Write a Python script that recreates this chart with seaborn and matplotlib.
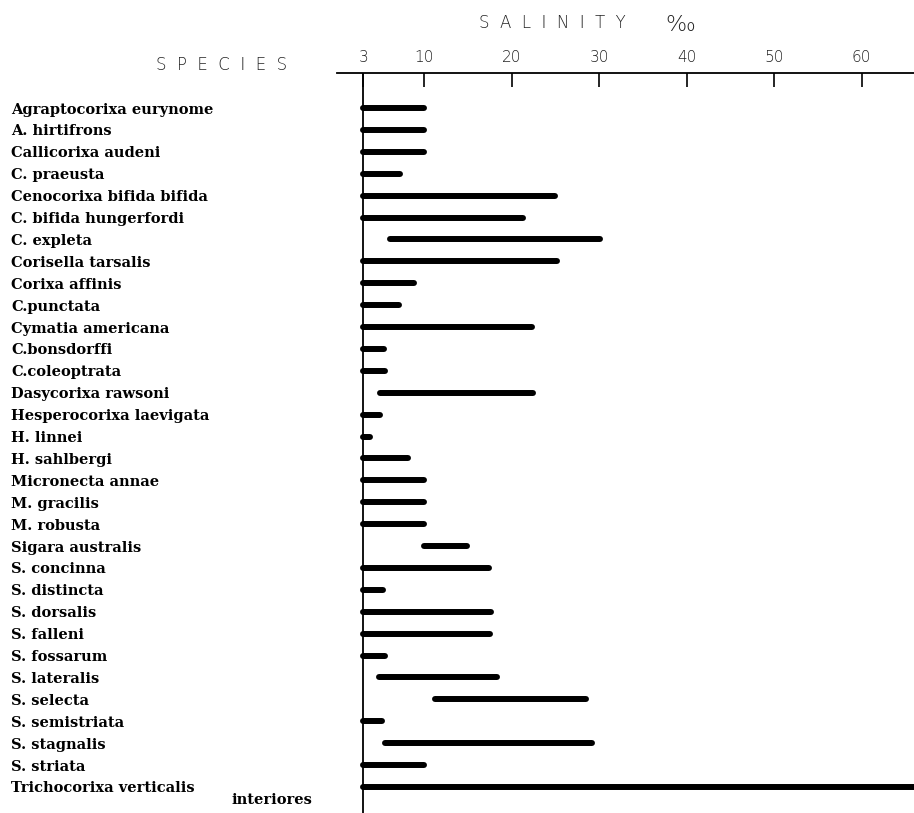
import matplotlib
matplotlib.use("Agg")
import matplotlib.pyplot as plt
import matplotlib.transforms as mtransforms
import seaborn as sns
import pandas as pd
import numpy as np

species = [
    "Agraptocorixa eurynome", "A. hirtifrons", "Callicorixa audeni", "C. praeusta",
    "Cenocorixa bifida bifida", "C. bifida hungerfordi", "C. expleta", "Corisella tarsalis",
    "Corixa affinis", "C.punctata", "Cymatia americana", "C.bonsdorffi", "C.coleoptrata",
    "Dasycorixa rawsoni", "Hesperocorixa laevigata", "H. linnei", "H. sahlbergi",
    "Micronecta annae", "M. gracilis", "M. robusta", "Sigara australis", "S. concinna",
    "S. distincta", "S. dorsalis", "S. falleni", "S. fossarum", "S. lateralis",
    "S. selecta", "S. semistriata", "S. stagnalis", "S. striata", "Trichocorixa verticalis",
]
label_extra = "interiores"
low = [3, 3, 3, 3, 3, 3, 6.1, 3, 3, 3, 3, 3, 3, 4.9, 3, 3, 3, 3, 3, 3, 9.9, 3,
       3, 3, 3, 3, 4.8, 11.2, 3, 5.5, 3, 3]
high = [10, 10, 10, 7.2, 24.9, 21.3, 30.1, 25.2, 8.8, 7.1, 22.3, 5.4, 5.5, 22.4, 4.9,
        3.8, 8.1, 9.9, 10, 10, 14.9, 17.4, 5.3, 17.6, 17.5, 5.5, 18.3, 28.5, 5.2, 29.2,
        10, 66]
tick_values = [3, 10, 20, 30, 40, 50, 60]

sns.set_theme(style="white")
plt.rcParams['font.family'] = ['DejaVu Sans']

W, H = 914, 813
fig = plt.figure(figsize=(W / 100, H / 100), dpi=100)
ax = fig.add_axes([337 / W, 0, 1 - 337 / W, 1 - 73 / H])

pos = np.arange(len(species))
df = pd.DataFrame({
    "species": np.repeat(species, 2),
    "pos": np.repeat(pos, 2),
    "salinity": np.ravel(np.column_stack([low, high])),
})
sns.lineplot(data=df, x="salinity", y="pos", units="species", estimator=None,
             sort=False, color="black", lw=4.3, solid_capstyle="round",
             ax=ax, legend=False)

ax.axvline(3, color="black", lw=1.3)
ax.set_xlim(0, 66)
ax.set_ylim(32.19, -1.6)
ax.set_xlabel("")
ax.set_ylabel("")

for s in ["bottom", "left", "right"]:
    ax.spines[s].set_visible(False)
ax.spines["top"].set_visible(True)
ax.spines["top"].set_color("black")
ax.spines["top"].set_linewidth(1.3)

ax.xaxis.tick_top()
ax.set_xticks(tick_values)
ax.set_xticklabels([str(v) for v in tick_values], fontsize=11,
                   fontfamily="DejaVu Sans", fontweight="light", color="#222222")
ax.tick_params(axis="x", direction="in", length=10, width=1.2, color="black",
               pad=6, top=True, bottom=False)

label_size = 10.5
ax.set_yticks(pos)
ax.set_yticklabels(species, fontfamily="DejaVu Serif", fontweight="bold",
                   fontsize=label_size, ha="left", color="black")
ax.tick_params(axis="y", length=0, pad=(337 - 11) * 0.72, left=True)

ax.text(272 / W, 31.6, label_extra,
        transform=mtransforms.blended_transform_factory(fig.transFigure, ax.transData),
        fontfamily="DejaVu Serif", fontweight="bold", fontsize=label_size,
        ha="center", va="center", color="black")

fig.text(552 / W, 1 - 23 / H, "S  A  L  I  N  I  T  Y", fontsize=12,
         fontfamily="DejaVu Sans", fontweight="light", color="#222222",
         ha="center", va="center")
fig.text(680 / W, 1 - 25 / H, "‰", fontsize=16, fontfamily="DejaVu Sans",
         fontweight="light", color="#222222", ha="center", va="center")
fig.text(222 / W, 1 - 65 / H, "S  P  E  C  I  E  S", fontsize=12,
         fontfamily="DejaVu Sans", fontweight="light", color="#222222",
         ha="center", va="center")

fig.savefig("out.png", dpi=100, facecolor="white")
